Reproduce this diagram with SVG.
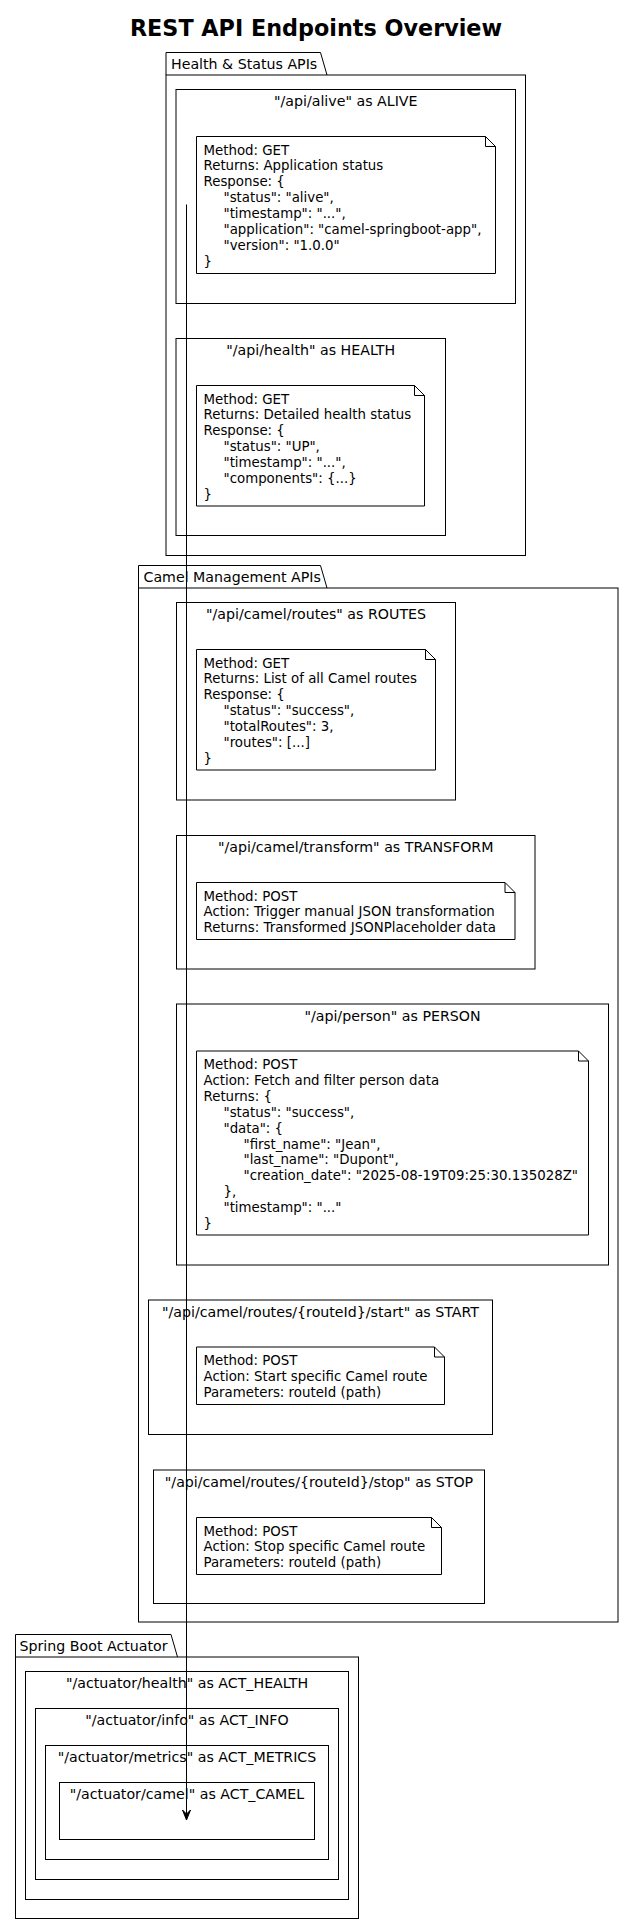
<svg xmlns="http://www.w3.org/2000/svg" width="635" height="1925" viewBox="0 0 635 1925">
<style>
.bx{fill:#fff;stroke:#000;stroke-width:1}
.pk{fill:none;stroke:#000;stroke-width:1}
.nt{fill:#fff;stroke:#000;stroke-width:1}
.fd{fill:none;stroke:#000;stroke-width:1}
text{font-family:"DejaVu Sans","Liberation Sans",sans-serif;fill:#000}
.t{font-size:22.3px;font-weight:bold;text-anchor:middle}
.pl{font-size:14.2px}
.bl{font-size:14.2px;text-anchor:middle}
.n{font-size:13.35px}
.cn{stroke:#000;stroke-width:1;fill:none}
</style>
<rect x="0" y="0" width="635" height="1925" fill="#fff"/>
<text class="t" x="316" y="36">REST API Endpoints Overview</text>

<g id="pkg-health">
<path class="pk" d="M166,75 L166,52.5 L320.5,52.5 L327,75"/>
<rect class="pk" x="166" y="75" width="359.5" height="480.5"/>
<text class="pl" x="171" y="68.5">Health &amp; Status APIs</text>
</g>

<g id="ALIVE">
<rect class="bx" x="176" y="89.5" width="339.5" height="214"/>
<text class="bl" x="345.75" y="106">"/api/alive" as ALIVE</text>
<path class="nt" d="M196.5,136.5 L485.5,136.5 L495.5,146.5 L495.5,273.5 L196.5,273.5 Z"/>
<path class="fd" d="M485.5,136.5 L485.5,146.5 L495.5,146.5"/>
<text class="n" x="203.5" y="154.5">Method: GET</text>
<text class="n" x="203.5" y="170.4">Returns: Application status</text>
<text class="n" x="203.5" y="186.3">Response: {</text>
<text class="n" x="223.5" y="202.2">"status": "alive",</text>
<text class="n" x="223.5" y="218.1">"timestamp": "...",</text>
<text class="n" x="223.5" y="234">"application": "camel-springboot-app",</text>
<text class="n" x="223.5" y="249.9">"version": "1.0.0"</text>
<text class="n" x="203.5" y="265.8">}</text>
</g>

<g id="HEALTH">
<rect class="bx" x="176" y="338.5" width="269.5" height="197"/>
<text class="bl" x="310.75" y="355">"/api/health" as HEALTH</text>
<path class="nt" d="M196.5,385.5 L414.5,385.5 L424.5,395.5 L424.5,506 L196.5,506 Z"/>
<path class="fd" d="M414.5,385.5 L414.5,395.5 L424.5,395.5"/>
<text class="n" x="203.5" y="403.5">Method: GET</text>
<text class="n" x="203.5" y="419.4">Returns: Detailed health status</text>
<text class="n" x="203.5" y="435.3">Response: {</text>
<text class="n" x="223.5" y="451.2">"status": "UP",</text>
<text class="n" x="223.5" y="467.1">"timestamp": "...",</text>
<text class="n" x="223.5" y="483">"components": {...}</text>
<text class="n" x="203.5" y="498.9">}</text>
</g>

<g id="pkg-camel">
<path class="pk" d="M138.5,588 L138.5,565.5 L320.5,565.5 L327,588"/>
<rect class="pk" x="138.5" y="588" width="479.5" height="1034"/>
<text class="pl" x="143.5" y="581.5">Camel Management APIs</text>
</g>

<g id="ROUTES">
<rect class="bx" x="176.5" y="602.5" width="279" height="197.5"/>
<text class="bl" x="316" y="619">"/api/camel/routes" as ROUTES</text>
<path class="nt" d="M196.5,649.5 L425.5,649.5 L435.5,659.5 L435.5,770 L196.5,770 Z"/>
<path class="fd" d="M425.5,649.5 L425.5,659.5 L435.5,659.5"/>
<text class="n" x="203.5" y="667.5">Method: GET</text>
<text class="n" x="203.5" y="683.4">Returns: List of all Camel routes</text>
<text class="n" x="203.5" y="699.3">Response: {</text>
<text class="n" x="223.5" y="715.2">"status": "success",</text>
<text class="n" x="223.5" y="731.1">"totalRoutes": 3,</text>
<text class="n" x="223.5" y="747">"routes": [...]</text>
<text class="n" x="203.5" y="762.9">}</text>
</g>

<g id="TRANSFORM">
<rect class="bx" x="176.5" y="835.5" width="358.5" height="133.5"/>
<text class="bl" x="355.75" y="852">"/api/camel/transform" as TRANSFORM</text>
<path class="nt" d="M196.5,882.5 L505,882.5 L515,892.5 L515,939.5 L196.5,939.5 Z"/>
<path class="fd" d="M505,882.5 L505,892.5 L515,892.5"/>
<text class="n" x="203.5" y="900.5">Method: POST</text>
<text class="n" x="203.5" y="916.4">Action: Trigger manual JSON transformation</text>
<text class="n" x="203.5" y="932.3">Returns: Transformed JSONPlaceholder data</text>
</g>

<g id="PERSON">
<rect class="bx" x="176.5" y="1004" width="432" height="261"/>
<text class="bl" x="392.5" y="1020.5">"/api/person" as PERSON</text>
<path class="nt" d="M196.5,1051 L578.5,1051 L588.5,1061 L588.5,1235 L196.5,1235 Z"/>
<path class="fd" d="M578.5,1051 L578.5,1061 L588.5,1061"/>
<text class="n" x="203.5" y="1069">Method: POST</text>
<text class="n" x="203.5" y="1084.9">Action: Fetch and filter person data</text>
<text class="n" x="203.5" y="1100.8">Returns: {</text>
<text class="n" x="223.5" y="1116.7">"status": "success",</text>
<text class="n" x="223.5" y="1132.6">"data": {</text>
<text class="n" x="243.5" y="1148.5">"first_name": "Jean",</text>
<text class="n" x="243.5" y="1164.4">"last_name": "Dupont",</text>
<text class="n" x="243.5" y="1180.3">"creation_date": "2025-08-19T09:25:30.135028Z"</text>
<text class="n" x="223.5" y="1196.2">},</text>
<text class="n" x="223.5" y="1212.1">"timestamp": "..."</text>
<text class="n" x="203.5" y="1228">}</text>
</g>

<g id="START">
<rect class="bx" x="148.5" y="1300" width="344" height="134.5"/>
<text class="bl" x="320.5" y="1316.5">"/api/camel/routes/{routeId}/start" as START</text>
<path class="nt" d="M196.5,1347 L434.5,1347 L444.5,1357 L444.5,1404.5 L196.5,1404.5 Z"/>
<path class="fd" d="M434.5,1347 L434.5,1357 L444.5,1357"/>
<text class="n" x="203.5" y="1365">Method: POST</text>
<text class="n" x="203.5" y="1380.9">Action: Start specific Camel route</text>
<text class="n" x="203.5" y="1396.8">Parameters: routeId (path)</text>
</g>

<g id="STOP">
<rect class="bx" x="153.5" y="1470" width="331" height="133.5"/>
<text class="bl" x="319" y="1486.5">"/api/camel/routes/{routeId}/stop" as STOP</text>
<path class="nt" d="M196.5,1517.5 L431.5,1517.5 L441.5,1527.5 L441.5,1574.5 L196.5,1574.5 Z"/>
<path class="fd" d="M431.5,1517.5 L431.5,1527.5 L441.5,1527.5"/>
<text class="n" x="203.5" y="1535.5">Method: POST</text>
<text class="n" x="203.5" y="1551.4">Action: Stop specific Camel route</text>
<text class="n" x="203.5" y="1567.3">Parameters: routeId (path)</text>
</g>

<g id="pkg-actuator">
<path class="pk" d="M15.5,1657 L15.5,1634.5 L171,1634.5 L177.5,1657"/>
<rect class="pk" x="15.5" y="1657" width="343" height="261.5"/>
<text class="pl" x="19.5" y="1650.5">Spring Boot Actuator</text>
</g>

<g id="ACT_HEALTH">
<rect class="bx" x="25.5" y="1671.5" width="323" height="228"/>
<text class="bl" x="187" y="1688">"/actuator/health" as ACT_HEALTH</text>
</g>
<g id="ACT_INFO">
<rect class="bx" x="35.5" y="1708.5" width="303" height="171"/>
<text class="bl" x="187" y="1725">"/actuator/info" as ACT_INFO</text>
</g>
<g id="ACT_METRICS">
<rect class="bx" x="45.5" y="1745.5" width="283" height="114"/>
<text class="bl" x="187" y="1762">"/actuator/metrics" as ACT_METRICS</text>
</g>
<g id="ACT_CAMEL">
<rect class="bx" x="59.5" y="1782.5" width="255" height="57"/>
<text class="bl" x="187" y="1799">"/actuator/camel" as ACT_CAMEL</text>
</g>

<g id="connectors">
<line class="cn" x1="186.5" y1="204.5" x2="186.5" y2="1814"/>
<polygon points="182.5,1810 186.5,1820 190.5,1810 186.5,1814" fill="#000" stroke="#000" stroke-width="1"/>
</g>
</svg>
